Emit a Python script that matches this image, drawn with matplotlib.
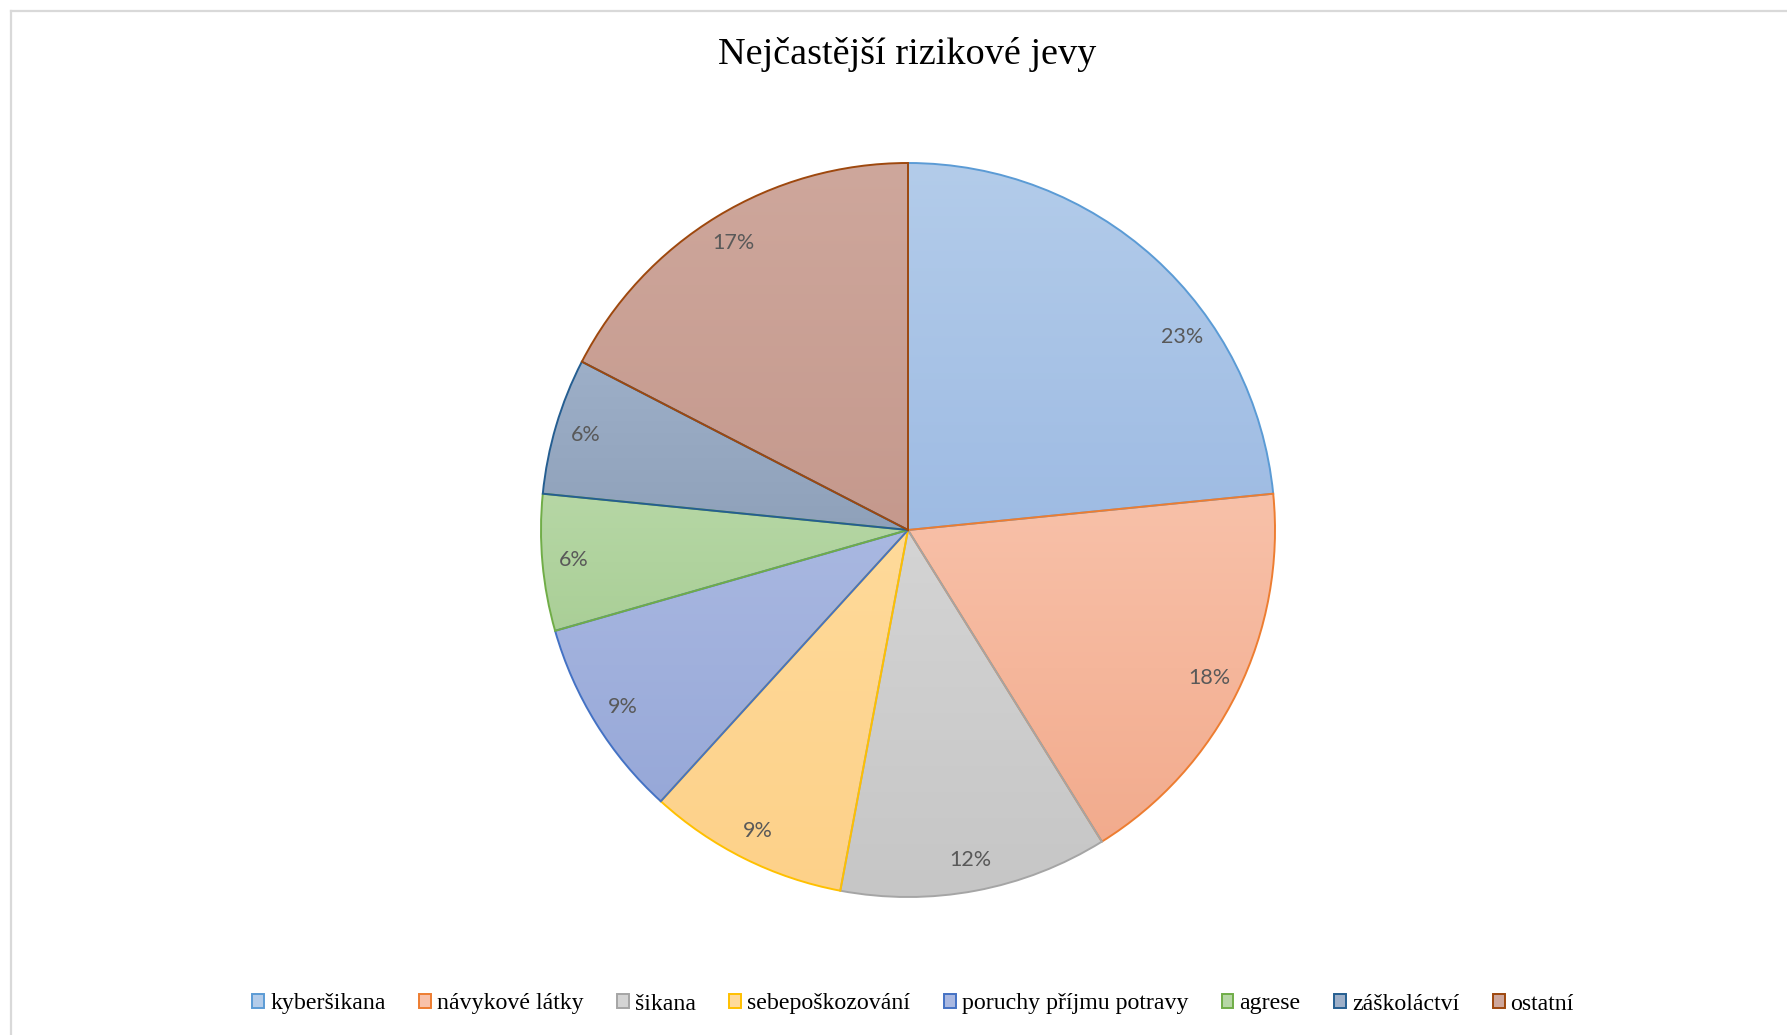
import numpy as np
import matplotlib
matplotlib.use("Agg")
import matplotlib.pyplot as plt
from matplotlib.patches import Patch
from matplotlib.lines import Line2D
from matplotlib.colors import to_rgb

# ---- data ----
title = "Nejčastější rizikové jevy"
categories = ["kyberšikana", "návykové látky", "šikana", "sebepoškozování",
              "poruchy příjmu potravy", "agrese", "záškoláctví", "ostatní"]
values = [23.4, 17.7, 11.8, 8.8, 8.8, 6.0, 6.0, 17.4]

# ---- style ----
edge_colors = ["#5B9BD5", "#ED7D31", "#A5A5A5", "#FFC000",
               "#4472C4", "#70AD47", "#255E91", "#9E480E"]
fill_top = ["#B3CCEA", "#F8C1A9", "#D4D4D4", "#FFDA9A",
            "#A9B8E1", "#B6D7A5", "#9DAFC8", "#CEA79C"]
fill_bottom = ["#9EBBE3", "#F2AB8D", "#C6C6C6", "#FDD189",
               "#97A8D8", "#AACF97", "#8FA1BA", "#C5998D"]
label_shift_deg = [-12.7, 0, 0, 0, 0, 0, 0, 0]

W, H = 1787, 1035
fig = plt.figure(figsize=(W / 100, H / 100), dpi=100)
fig.patch.set_facecolor("white")

cx, cy, R = 908, 530, 367
pad = 1.1
s = 2 * R * pad
ax = fig.add_axes([(cx - s / 2) / W, (H - cy - s / 2) / H, s / W, s / H])

wedges, _ = ax.pie(values, startangle=90, counterclock=False, radius=1,
                   colors=["none"] * len(values),
                   wedgeprops=dict(linewidth=1.4, zorder=3))
total = sum(values)
for i, w in enumerate(wedges):
    w.set_edgecolor(edge_colors[i])
    w.set_facecolor("none")
    ext = w.get_path().get_extents()
    top = np.array(to_rgb(fill_top[i]))
    bot = np.array(to_rgb(fill_bottom[i]))
    t = np.linspace(0, 1, 256)[:, None, None]
    grad = top * (1 - t) + bot * t
    im = ax.imshow(grad, extent=[ext.x0, ext.x1, ext.y0, ext.y1],
                   origin="upper", aspect="auto", zorder=1, interpolation="bilinear")
    im.set_clip_path(w)
    mid = np.deg2rad((w.theta1 + w.theta2) / 2 + label_shift_deg[i])
    d = 0.915
    ax.text(d * np.cos(mid), d * np.sin(mid), f"{values[i] / total * 100:.0f}%",
            ha="center", va="center", fontsize=15.5, color="#595959",
            family=["Lato", "DejaVu Sans"], zorder=5)

ax.set_xlim(-pad, pad)
ax.set_ylim(-pad, pad)
ax.set_aspect("equal")
ax.axis("off")

fig.text(907 / W, 1 - 55 / H, title, ha="center", va="center",
         fontsize=27.5, family=["Liberation Serif", "DejaVu Serif"], color="black")

handles = [Patch(facecolor=fill_top[i], edgecolor=edge_colors[i], linewidth=1.4)
           for i in range(len(categories))]
fig.legend(handles, categories, loc="center", bbox_to_anchor=(913 / W, 1 - 1004 / H),
           ncol=len(categories), frameon=False,
           prop=dict(family=["Liberation Serif", "DejaVu Serif"], size=17.2),
           handlelength=0.5, handleheight=0.5, handletextpad=0.25,
           columnspacing=1.4)

# chart border (left and top visible)
bc = "#D9D9D9"
fig.add_artist(Line2D([11 / W, 11 / W], [0, 1 - 11 / H], color=bc, linewidth=1.6,
                      transform=fig.transFigure))
fig.add_artist(Line2D([11 / W, 1], [1 - 11 / H, 1 - 11 / H], color=bc, linewidth=1.6,
                      transform=fig.transFigure))

fig.savefig("out.png", dpi=100, facecolor="white")
